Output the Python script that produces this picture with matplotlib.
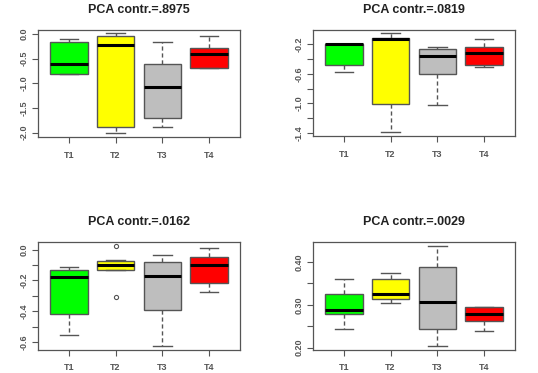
import matplotlib
matplotlib.use("Agg")
import matplotlib.pyplot as plt
import numpy as np

plt.rcParams['font.family'] = ['Liberation Sans', 'DejaVu Sans']

groups = ["T1", "T2", "T3", "T4"]
colors = ["#00ff00", "#ffff00", "#bebebe", "#ff0000"]

titles = ["PCA contr.=.8975", "PCA contr.=.0819", "PCA contr.=.0162", "PCA contr.=.0029"]

# five number summaries per group: lower whisker, q1, median, q3, upper whisker
pc1 = [(-0.82, -0.82, -0.60, -0.16, -0.10),
       (-2.01, -1.89, -0.23, -0.05, 0.01),
       (-1.89, -1.70, -1.08, -0.60, -0.17),
       (-0.69, -0.69, -0.41, -0.28, -0.05)]
pc2 = [(-0.57, -0.48, -0.20, -0.20, -0.20),
       (-1.39, -1.01, -0.13, -0.11, -0.05),
       (-1.02, -0.60, -0.35, -0.26, -0.24),
       (-0.50, -0.48, -0.31, -0.24, -0.13)]
pc3 = [(-0.554, -0.418, -0.178, -0.13, -0.114),
       (-0.135, -0.13, -0.10, -0.073, -0.07),
       (-0.623, -0.39, -0.169, -0.08, -0.036),
       (-0.274, -0.217, -0.10, -0.05, 0.009)]
pc4 = [(0.243, 0.278, 0.288, 0.325, 0.360),
       (0.305, 0.314, 0.325, 0.359, 0.375),
       (0.205, 0.243, 0.306, 0.387, 0.437),
       (0.240, 0.261, 0.279, 0.294, 0.294)]
outliers = [[[], [], [], []],
            [[], [], [], []],
            [[], [0.023, -0.308], [], []],
            [[], [], [], []]]

yticks = [np.arange(-2.0, 0.01, 0.5),
          np.arange(-1.4, -0.19, 0.2),
          np.arange(-0.6, 0.01, 0.1),
          np.arange(0.20, 0.401, 0.05)]
ylabels = [["-2.0", "-1.5", "-1.0", "-0.5", "0.0"],
           ["-1.4", "", "-1.0", "", "-0.6", "", "-0.2"],
           ["-0.6", "", "-0.4", "", "-0.2", "", "0.0"],
           ["0.20", "", "0.30", "", "0.40"]]

panels = [pc1, pc2, pc3, pc4]

fig = plt.figure(figsize=(5.38, 3.73), dpi=100)
positions = [[38 / 538, 1 - 137 / 373, 202 / 538, 107.5 / 373],
             [313 / 538, 1 - 136 / 373, 202 / 538, 106.5 / 373],
             [38 / 538, 1 - 349.5 / 373, 202 / 538, 107.5 / 373],
             [313 / 538, 1 - 349.5 / 373, 202 / 538, 107.5 / 373]]

for k in range(4):
    ax = fig.add_axes(positions[k])
    stats = []
    for i, s in enumerate(panels[k]):
        stats.append({'whislo': s[0], 'q1': s[1], 'med': s[2], 'q3': s[3],
                      'whishi': s[4], 'fliers': outliers[k][i]})
    bp = ax.bxp(stats, positions=[1, 2, 3, 4], widths=0.8, patch_artist=True,
                boxprops=dict(edgecolor='#555555', linewidth=1.0),
                medianprops=dict(color='black', linewidth=2.2),
                whiskerprops=dict(color='#555555', linestyle=(0, (3, 2)), linewidth=1.0),
                capprops=dict(color='#555555', linewidth=1.0),
                flierprops=dict(marker='o', markersize=3, markerfacecolor='none',
                                markeredgecolor='#555555', markeredgewidth=0.8))
    for patch, c in zip(bp['boxes'], colors):
        patch.set_facecolor(c)
    lo = min(s[0] for s in panels[k])
    hi = max(s[4] for s in panels[k])
    for f in outliers[k]:
        if f:
            lo = min(lo, min(f))
            hi = max(hi, max(f))
    pad = (hi - lo) * 0.04
    ax.set_ylim(lo - pad, hi + pad)
    ax.set_xlim(0.34, 4.66)
    ax.set_xticks([1, 2, 3, 4])
    ax.set_xticklabels(groups, fontweight='bold')
    ax.set_yticks(yticks[k])
    ax.set_yticklabels(ylabels[k], rotation=90, va='center', fontweight='bold')
    ax.tick_params(axis='both', colors='#555555', labelcolor='#555555',
                   labelsize=6.5, length=4, width=0.8)
    ax.tick_params(axis='x', pad=6)
    ax.tick_params(axis='y', pad=3)
    for sp in ax.spines.values():
        sp.set_color('#555555')
        sp.set_linewidth(0.9)
    ax.set_title(titles[k], fontsize=9, fontweight='bold', color='#222222', pad=12)

fig.savefig("out.png", dpi=100)
